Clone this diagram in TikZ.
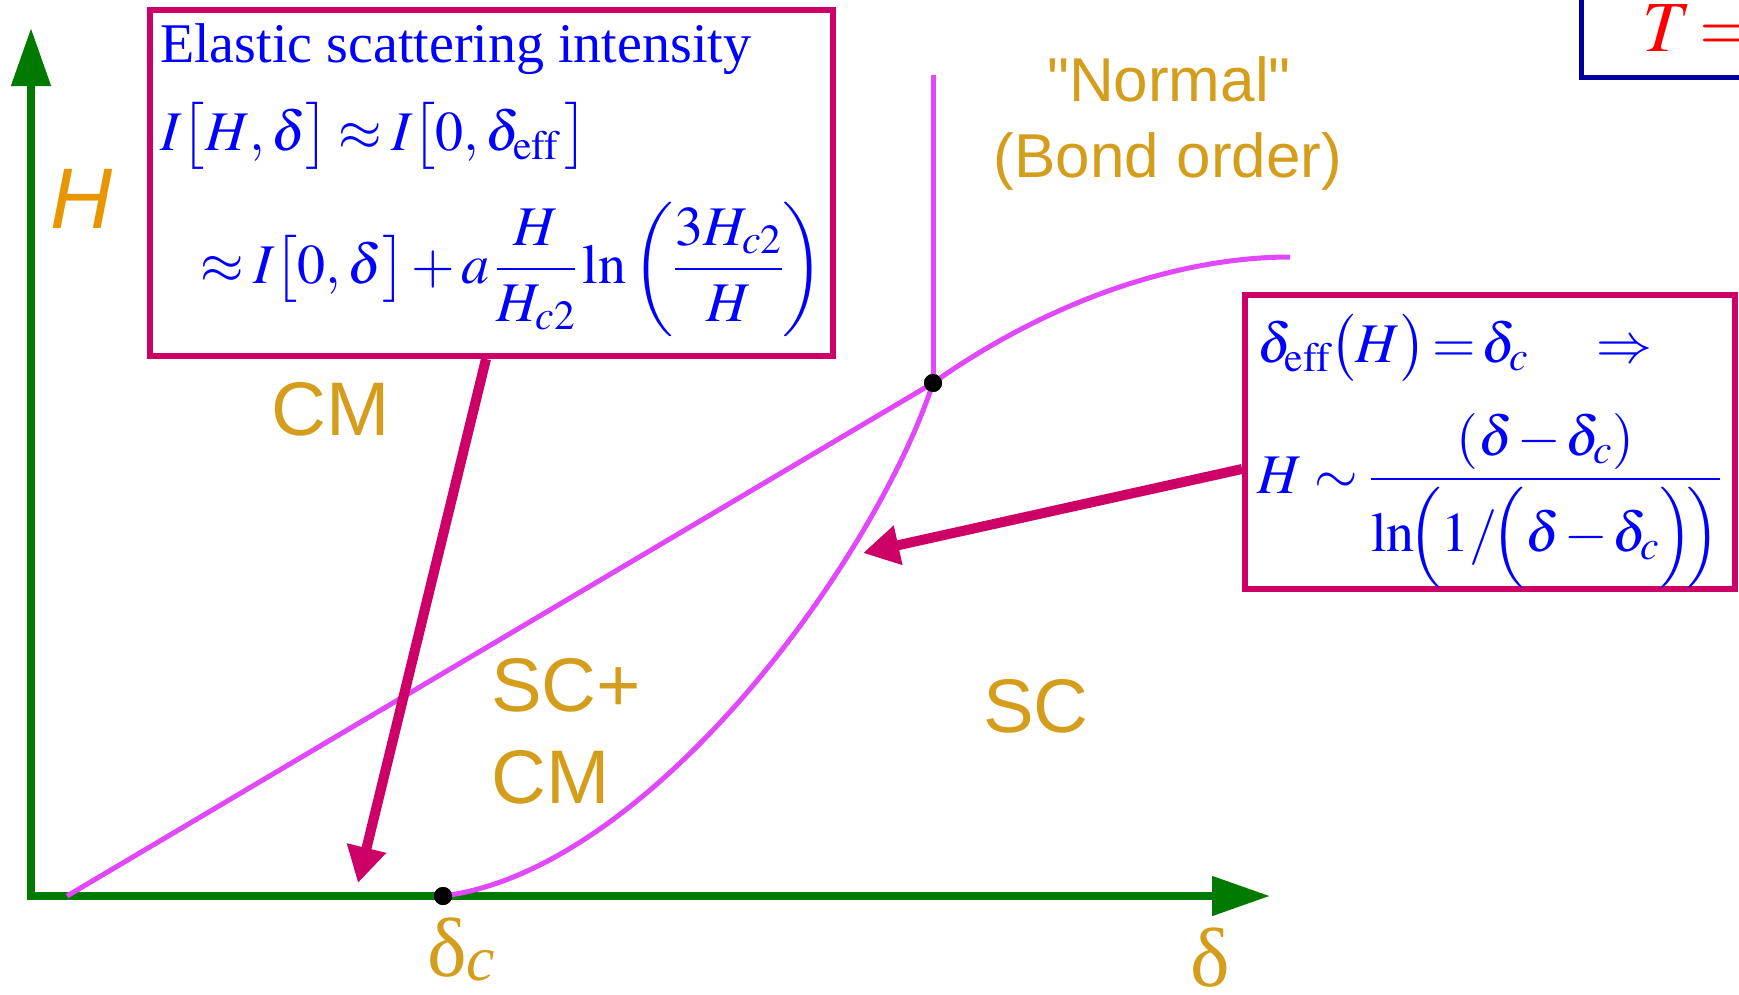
\documentclass[tikz,border=0pt]{standalone}
\usepackage{mathptmx}
\usepackage[no-math]{fontspec}
\setmainfont{Liberation Serif}
\newfontfamily\lsans{Liberation Sans}
\usetikzlibrary{arrows.meta}
\definecolor{crim}{RGB}{204,0,102}
\definecolor{axisg}{RGB}{0,122,0}
\definecolor{phasec}{RGB}{224,72,250}
\definecolor{gold}{RGB}{212,158,28}
\definecolor{horange}{RGB}{232,150,0}
\definecolor{tblue}{RGB}{0,0,160}
\definecolor{eqblue}{RGB}{0,0,255}
\begin{document}
\begin{tikzpicture}[x=1pt,y=-1pt,
  phase/.style={draw=phasec, line width=5pt},
  axisline/.style={draw=axisg, line width=8pt, -{Triangle[length=58pt,width=38pt]}},
  callout/.style={draw=crim, line width=10pt, -{Triangle[length=36pt,width=38pt]}},
  eqbox/.style={draw=crim, line width=6pt, inner sep=0pt, anchor=north west},
  eq/.style={text=eqblue, anchor=base west, inner sep=0pt, font=\fontsize{56}{67}\selectfont},
  region/.style={text=gold, anchor=base west, inner sep=0pt, font=\lsans\fontsize{76}{80}\selectfont},
  normal/.style={text=gold, anchor=base, inner sep=0pt, font=\lsans\fontsize{62}{70}\selectfont},
  dot/.style={circle, fill=black, inner sep=0pt, minimum size=18pt}
]
\useasboundingbox (0,0) rectangle (1739,994);
\clip (0,0) rectangle (1739,994);

% T=0 box (clipped at the corner)
\node[draw=tblue, line width=5pt, inner sep=0pt, anchor=south west, minimum width=300pt, minimum height=140pt] (tbox) at (1579,80) {};
\node[text=red, anchor=base west, inner sep=0pt, font=\fontsize{72}{80}\selectfont] (tlab) at (1642,51) {$T\!=\!0$};

% axes
\coordinate (O) at (31,896);
\coordinate (ytip) at (31,28);
\coordinate (xtip) at (1270,896);
\draw[axisline] ([yshift=-4pt]O) -- (ytip);
\draw[axisline] ([xshift=-4pt]O) -- (xtip);

% phase boundaries
\node[dot] (dc) at (443,896) {};
\node[dot] (P) at (933,383) {};
\coordinate (diag0) at (67,896);
\coordinate (vtop) at (933,75);
\coordinate (uend) at (1290,257);
\draw[phase] (diag0) -- (P.center);
\draw[phase] (P.center) -- (vtop);
\draw[phase] (P.center) .. controls (1050,300) and (1180,257) .. (uend);
\draw[phase] (dc.center) .. controls (650,870) and (875,560) .. (P.center);
\node[dot] at (dc) {};
\node[dot] at (P) {};

% axis labels
\node[text=horange, inner sep=0pt, font=\lsans\itshape\fontsize{86}{90}\selectfont] (Hlab) at (82,199) {H};
\node[text=gold, anchor=base west, inner sep=0pt, font=\fontsize{84}{90}\selectfont] (dclab) at (427,976) {δ\raisebox{-4pt}{\fontsize{64}{70}\selectfont\itshape c}};
\node[text=gold, anchor=base west, inner sep=0pt, font=\fontsize{84}{90}\selectfont] (dlab) at (1190,986) {δ};

% region labels
\node[normal] (norm) at (1169,101) {"Normal"};
\node[normal] (bond) at (1168,177) {(Bond order)};
\node[region] (cm1) at (271,435) {CM};
\node[region] (sccm1) at (491,711) {SC+};
\node[region] (sccm2) at (491,803) {CM};
\node[region] (sc) at (983,732) {SC};

% box 1
\node[eqbox, minimum width=683pt, minimum height=346pt] (box1) at (147,7) {};
\node[eq] (b1l1) at (160,62) {Elastic scattering intensity};
\node[eq] (b1l2) at (160,150) {$\thickmuskip=3mu I\bigl[H,\delta\bigr]\approx I\bigl[0,\delta_{\mathrm{eff}}\,\bigr]$};
\node[eq] (b1l3) at (200,283) {$\displaystyle \thickmuskip=3mu\medmuskip=2mu \approx I\bigl[0,\delta\bigr]+a\,\frac{H}{H_{c2}}\ln\left(\frac{3H_{c2}}{H}\right)$};

% box 2
\node[eqbox, minimum width=490pt, minimum height=294pt] (box2) at (1242,292) {};
\node[eq] (b2l1) at (1257,362) {$\thickmuskip=2mu \delta_{\mathrm{eff}}\bigl(H\bigr)=\delta_c\quad\;\Rightarrow$};
\node[eq] (b2l2) at (1257,493) {$\displaystyle \thickmuskip=4mu\medmuskip=1.5mu H\sim\frac{\,(\delta-\delta_c)\,}{\ln\!\Bigl(1/\!\Bigl(\delta-\delta_c\Bigr)\!\Bigr)}$};

% callout arrows
\coordinate (t1) at (358,883);
\coordinate (t2) at (863,553);
\draw[callout] ([xshift=-5.5pt]box1.south) -- (t1);
\draw[callout] ([yshift=-27pt]box2.west) -- (t2);
\end{tikzpicture}
\end{document}
